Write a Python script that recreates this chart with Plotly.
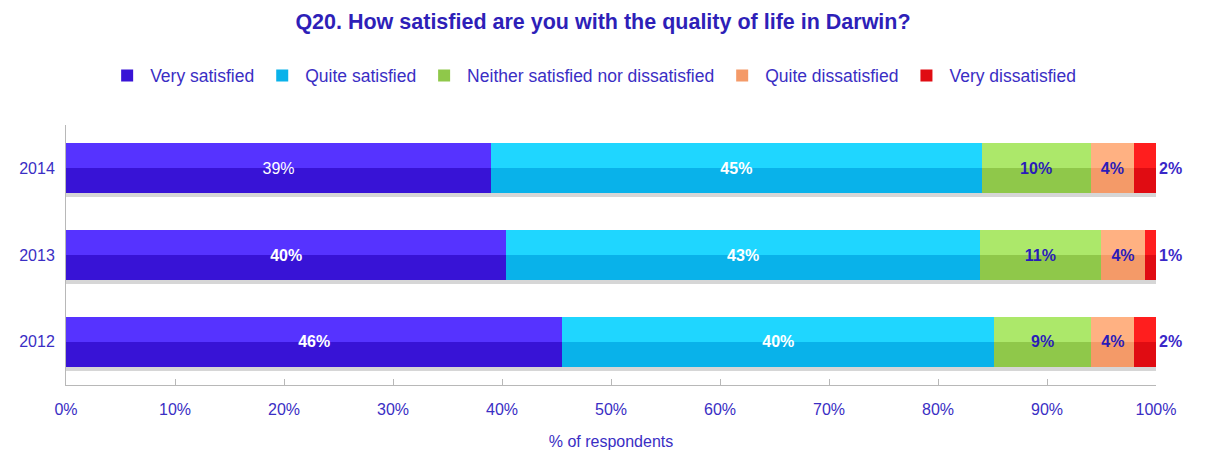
import plotly.graph_objects as go

# Survey results: share of respondents per answer, by year
years = ["2012", "2013", "2014"]
categories = [
    "Very satisfied",
    "Quite satisfied",
    "Neither satisfied nor dissatisfied",
    "Quite dissatisfied",
    "Very dissatisfied",
]
very_satisfied = [46, 40, 39]
quite_satisfied = [40, 43, 45]
neither = [9, 11, 10]
quite_dissatisfied = [4, 4, 4]
very_dissatisfied = [2, 1, 2]
x_ticks = [0, 10, 20, 30, 40, 50, 60, 70, 80, 90, 100]

series = [very_satisfied, quite_satisfied, neither, quite_dissatisfied, very_dissatisfied]

# two-tone bevel: darker lower body, lighter upper half
dark_colors = ["#3813D6", "#09B2EA", "#8FC84A", "#F49A68", "#E00C12"]
light_colors = ["#5633FF", "#1FD6FF", "#ACE86A", "#FFB182", "#FF1E1E"]
label_colors = ["white", "white", "#2A1CB8", "#2A1CB8", "#3A28C8"]

font = "Liberation Sans, Arial, sans-serif"
ink = "#3A2EC4"

BAR_W = 0.58          # bar thickness in category units
HALF = BAR_W / 2
SHADOW_W = 0.045      # thin grey drop shadow under each bar
base_range = [-0.5, 2.5]

fig = go.Figure()

# main bar bodies (also carry the legend)
for i, (name, vals) in enumerate(zip(categories, series)):
    fig.add_trace(go.Bar(
        y=years, x=vals, name=name, orientation="h", width=BAR_W,
        marker=dict(color=dark_colors[i], line=dict(width=0)),
        hoverinfo="skip", legendgroup=name,
    ))

# lighter upper half
for i, (name, vals) in enumerate(zip(categories, series)):
    fig.add_trace(go.Bar(
        y=years, x=vals, orientation="h", yaxis="y2", width=HALF,
        marker=dict(color=light_colors[i], line=dict(width=0)),
        showlegend=False, hoverinfo="skip", legendgroup=name,
    ))

# drop shadow strip just below each bar
for i, (name, vals) in enumerate(zip(categories, series)):
    fig.add_trace(go.Bar(
        y=years, x=vals, orientation="h", yaxis="y4", width=SHADOW_W,
        marker=dict(color="#D6D6D6", line=dict(width=0)),
        showlegend=False, hoverinfo="skip", legendgroup=name,
    ))

# value labels on transparent bars laid over everything
for i, (name, vals) in enumerate(zip(categories, series)):
    labels = []
    for y, v in zip(years, vals):
        if i == 0 and y == "2014":
            labels.append(f"{v}%")
        else:
            labels.append(f"<b>{v}%</b>")
    fig.add_trace(go.Bar(
        y=years, x=vals, orientation="h", yaxis="y3", width=BAR_W,
        marker=dict(color="rgba(0,0,0,0)", line=dict(width=0)),
        text=labels,
        texttemplate="%{text}",
        textposition="outside" if i == len(series) - 1 else "inside",
        insidetextanchor="middle",
        textangle=0,
        textfont=dict(family=font, size=16, color=label_colors[i]),
        cliponaxis=False,
        showlegend=False, hoverinfo="skip", legendgroup=name,
    ))

overlay = dict(type="category", categoryorder="array", categoryarray=years,
               overlaying="y", visible=False)
shadow_shift = HALF + SHADOW_W / 2

fig.update_layout(
    width=1206,
    height=454,
    barmode="stack",
    barnorm="percent",
    paper_bgcolor="white",
    plot_bgcolor="white",
    margin=dict(l=66, r=50, t=125, b=69),
    font=dict(family=font, color=ink, size=15),
    title=dict(
        text="<b>Q20. How satisfied are you with the quality of life in Darwin?</b>",
        x=0.5, xanchor="center", y=0.952, yanchor="middle",
        font=dict(family=font, size=21.5, color="#2E1FB8"),
    ),
    legend=dict(
        orientation="h",
        x=0.035, xanchor="left",
        y=1.19, yanchor="middle",
        font=dict(family=font, size=17.5, color=ink),
        traceorder="normal",
        itemwidth=36,
    ),
    xaxis=dict(
        range=[0, 100],
        tickvals=x_ticks,
        ticktext=[f"{t}%" for t in x_ticks],
        showgrid=False, zeroline=False,
        showline=True, linecolor="#B8B8B8", linewidth=1,
        ticks="inside", ticklen=6, tickcolor="#B8B8B8",
        ticklabelstandoff=10,
        automargin=False,
        tickfont=dict(family=font, size=16, color=ink),
        title=dict(text="% of respondents", font=dict(family=font, size=16, color=ink), standoff=18),
    ),
    yaxis=dict(
        type="category", categoryorder="array", categoryarray=years,
        range=base_range,
        showgrid=False, zeroline=False,
        showline=True, linecolor="#B8B8B8", linewidth=1,
        ticks="", ticklabelstandoff=7,
        automargin=False,
        tickfont=dict(family=font, size=16, color=ink),
    ),
    yaxis2=dict(overlay, range=[base_range[0] - HALF / 2, base_range[1] - HALF / 2]),
    yaxis3=dict(overlay, range=base_range),
    yaxis4=dict(overlay, range=[base_range[0] + shadow_shift, base_range[1] + shadow_shift]),
)

fig.write_html("out.html")
